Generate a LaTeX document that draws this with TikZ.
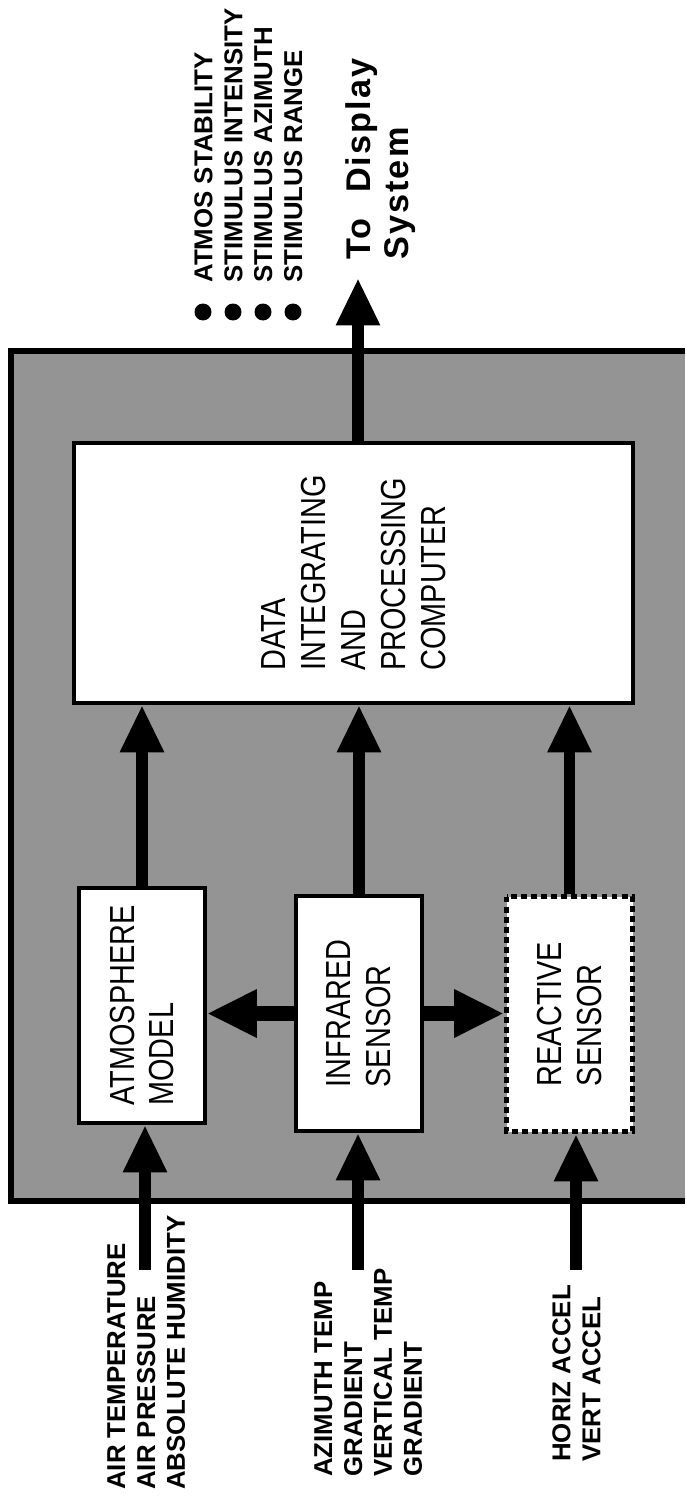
\documentclass[tikz,border=0pt]{standalone}
\usepackage{fontspec}
\setmainfont{Liberation Sans}
\newfontfamily\narrowfont[FakeStretch=0.83]{Liberation Sans}
\newfontfamily\dispfont[LetterSpace=6]{Liberation Sans}
\usepackage{tikz}
\usetikzlibrary{arrows.meta, positioning, calc}

\begin{document}
\begin{tikzpicture}[
    blockbox/.style={draw, line width=2.2pt, fill=white, rotate=90, align=left,
        inner sep=0pt, font=\narrowfont\fontsize{19.8}{22.7}\selectfont},
    sensorbox/.style={blockbox, minimum width=4.7cm, minimum height=2.52cm},
    inlabel/.style={rotate=90, anchor=north west, align=left, inner sep=0pt,
        font=\bfseries\fontsize{14.7}{17}\selectfont},
    bigarrow/.style={line width=6.8pt, -{Triangle[length=0.95cm, width=0.82cm]}},
    sidearrow/.style={line width=8.5pt, -{Triangle[length=1.0cm, width=0.9cm]}}
]
\useasboundingbox (0,0) rectangle (13.7,-30);

% Shaded system frame (open to the right)
\fill[black!42] (0.22,-7.02) rectangle (13.7,-24.02);
\draw[line width=3.4pt] (13.7,-7.02) -- (0.22,-7.02) -- (0.22,-24.02) -- (13.7,-24.02);

% Computer
\node[blockbox, minimum width=5.2cm, minimum height=11.18cm] (comp) at (7.07,-11.46)
    {DATA\\INTEGRATING\\AND\\PROCESSING\\COMPUTER};

% Sensors and model
\node[sensorbox] (atmos) at (2.84,-20.11) {ATMOSPHERE\\MODEL};
\node[sensorbox] (ir) at (7.18,-20.27) {INFRARED\\SENSOR};
\node[sensorbox, line width=2.8pt, dash pattern=on 3.4pt off 2.3pt] (react) at (11.39,-20.28)
    {REACTIVE\\SENSOR};

% Into the computer
\draw[bigarrow] (atmos.east) -- (atmos.east |- comp.west);
\draw[bigarrow] (ir.east) -- (ir.east |- comp.west);
\draw[bigarrow] (react.east) -- (react.east |- comp.west);

% Infrared feeds both sides
\draw[sidearrow] (ir.north) -- (ir.north -| atmos.south);
\draw[sidearrow] (ir.south) -- (ir.south -| react.north);

% Inputs
\coordinate (inatmos) at (2.9,-25.4);
\coordinate (inir) at (7.16,-25.4);
\coordinate (inreact) at (11.52,-25.4);
\draw[bigarrow] (inatmos) -- (inatmos |- atmos.west);
\draw[bigarrow] (inir) -- (inir |- ir.west);
\draw[bigarrow] (inreact) -- (inreact |- react.west);

\node[inlabel] (lblatmos) at (2.14,-29.8) {AIR TEMPERATURE\\AIR PRESSURE\\ABSOLUTE HUMIDITY};
\node[inlabel] (lblir) at (6.28,-29.54) {AZIMUTH TEMP\\GRADIENT\\VERTICAL TEMP\\GRADIENT};
\node[inlabel] (lblreact) at (11.04,-29.24) {HORIZ ACCEL\\VERT ACCEL};

% Output
\coordinate (disp) at (7.16,-5.56);
\draw[bigarrow] (disp |- comp.east) -- (disp);
\node[inlabel, font=\dispfont\bfseries\fontsize{19.5}{22}\selectfont] (todisp) at (6.9,-5.2)
    {To\hspace{0.4em} Display\\System};

\foreach \k in {0,...,3} {
    \fill (4.06+0.6*\k,-6.24) circle (0.17);
}
\node[inlabel] (outlist) at (3.88,-5.66)
    {ATMOS STABILITY\\STIMULUS INTENSITY\\STIMULUS AZIMUTH\\STIMULUS RANGE};
\end{tikzpicture}
\end{document}
